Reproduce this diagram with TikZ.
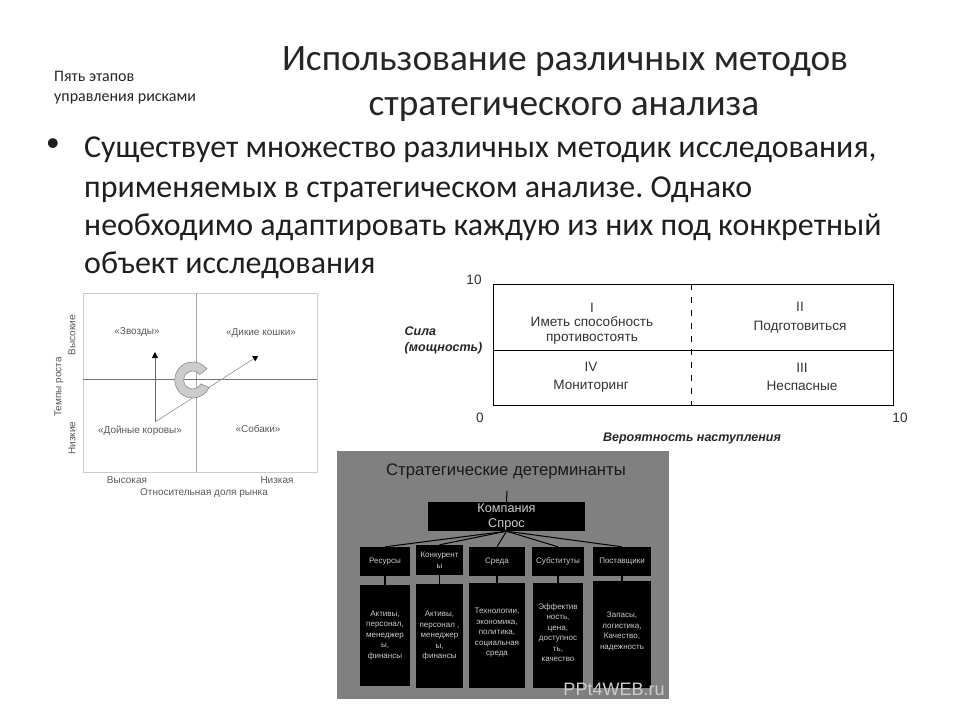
\documentclass[tikz,border=0pt]{standalone}
\usepackage{fontspec}
\setmainfont{Carlito}
\newfontfamily\arialf{Liberation Sans}
\newcommand{\fsz}[2]{\fontsize{#1}{#2}\selectfont}
\usetikzlibrary{arrows.meta}
\frenchspacing
\tikzset{
  titletext/.style={font=\fsz{37.3}{40}, text=black!85, inner sep=0pt, align=center},
  bodyline/.style={font=\fsz{31.9}{34}, text=black!88, inner sep=0pt, anchor=base west},
  smallnote/.style={font=\fsz{16}{18}, text=black!85, inner sep=0pt, anchor=base west},
  bcg/.style={font=\arialf\fsz{10}{12}, text=black!65, inner sep=0pt},
  risk/.style={font=\arialf\fsz{13.6}{14.6}, text=black!80, inner sep=0pt, align=center},
  riskbold/.style={font=\arialf\bfseries\itshape\fsz{12.5}{16}, text=black!85, inner sep=0pt, align=left},
  darkbox/.style={fill=black, draw=none, inner sep=0pt, text=white!80!black, align=center, font=\arialf\fsz{8}{10.5}},
  link/.style={draw=black, line width=1pt},
  stemlink/.style={draw=black, line width=1.5pt},
}
\begin{document}
\begin{tikzpicture}[x=1pt,y=-1pt]
\useasboundingbox (0,0) rectangle (960,720);
\fill[white] (0,0) rectangle (960,720);
% heading
\node[titletext] (title1) at (565,62) {Использование различных методов};
\node[titletext] (title2) at (564,109) {стратегического анализа};
\node[smallnote] (note1) at (54,81.5) {Пять этапов};
\node[smallnote] (note2) at (54,101) {управления рисками};
% body
\node[font=\arialf\fsz{36}{36}, inner sep=0pt, text=black!88] (bullet) at (53,147) {•};
\node[bodyline] (b1) at (84,157) {Существует множество различных методик исследования,};
\node[bodyline] (b2) at (84,197) {применяемых в стратегическом анализе. Однако};
\node[bodyline] (b3) at (84,235) {необходимо адаптировать каждую из них под конкретный};
\node[bodyline] (b4) at (84,273) {объект исследования};
% BCG matrix
\draw[black!20, line width=.8pt] (83,293) rectangle (317,472);
\draw[black!35, line width=.7pt] (196,293) -- (196,472);
\draw[black!55, line width=.7pt] (83,379) -- (317,379);
\coordinate (cowbase) at (155,422);
\coordinate (startip) at (155,352);
\coordinate (cattip) at (258,356);
\draw[black!60, line width=.7pt, -{Triangle[length=6pt,width=6pt,black]}] (cowbase) -- (startip);
\draw[black!40, line width=.7pt, -{Triangle[length=5pt,width=6pt,black]}] (cowbase) -- (cattip);
% C emblem
\fill[black!20, draw=black!50, line width=.5pt]
  ([shift={(192.7,380)}]-38:18) arc[start angle=-38,end angle=-335,radius=18]
  -- ([shift={(192.7,380)}]-335:9) arc[start angle=-335,end angle=-38,radius=9] -- cycle;
\node[bcg] (stars) at (137,332) {«Звозды»};
\node[bcg] (cats) at (261,333) {«Дикие кошки»};
\node[bcg] (cows) at (140,431) {«Дойные коровы»};
\node[bcg] (dogs) at (258,429) {«Собаки»};
\node[bcg, rotate=90] (hi) at (72,335) {Высокие};
\node[bcg, rotate=90] (lo) at (72,438) {Низкие};
\node[bcg, rotate=90] (growth) at (59,387) {Темпы роста};
\node[bcg] (xhi) at (127,480) {Высокая};
\node[bcg] (xlo) at (277,480) {Низкая};
\node[bcg] (share) at (204,493) {Относительная доля рынка};
% risk matrix
\draw[black, line width=1pt] (493,284) rectangle (893,405);
\draw[black, line width=1pt] (493,350) -- (893,350);
\draw[black, line width=.8pt, dash pattern=on 6pt off 7pt] (691,284) -- (691,405);
\node[risk] (q1) at (592,323.5) {I\\Иметь способность\\противостоять};
\node[risk] (q2) at (800,318) {II\\[4.5pt]Подготовиться};
\node[risk] (q4) at (591,377.5) {IV\\[3.5pt]Мониторинг};
\node[risk] (q3) at (802,377) {III\\[3.5pt]Неспасные};
\node[riskbold] (power) at (443.5,340) {Сила\\(мощность)};
\node[risk] (y10) at (474,280) {10};
\node[risk] (x0) at (480,418) {0};
\node[risk] (x10) at (900,418) {10};
\node[riskbold] (prob) at (692,438) {Вероятность наступления};
% determinants
\fill[black!50] (337,451) rectangle (669,699);
\node[font=\arialf\fsz{16.7}{18}, text=black!90, inner sep=0pt] (dtitle) at (506,471) {Стратегические детерминанты};
\node[darkbox, minimum width=157pt, minimum height=29pt] (comp) at (506.5,516.5) {};
\node[darkbox, fill=none, font=\arialf\fsz{12.7}{15.7}] (complabel) at (506.5,517) {Компания\\Спрос};
\coordinate (stub) at (507,491);
\draw[link] (comp.north) -- (stub);
\node[darkbox, minimum width=50pt, minimum height=29pt] (res) at (385,561.5) {Ресурсы};
\node[darkbox, minimum width=47pt, minimum height=30pt] (con) at (439.5,560) {Конкурент\\ы};
\node[darkbox, minimum width=56pt, minimum height=29pt] (env) at (497,561.5) {Среда};
\node[darkbox, minimum width=52pt, minimum height=29pt] (sub) at (558,561.5) {Субституты};
\node[darkbox, minimum width=58pt, minimum height=29pt] (sup) at (622,561.5) {Поставщики};
\node[darkbox, minimum width=50pt, minimum height=101pt] (res2) at (385,635.5) {Активы,\\персонал,\\менеджер\\ы,\\финансы};
\node[darkbox, minimum width=47pt, minimum height=104pt] (con2) at (439.5,636) {Активы,\\персонал ,\\менеджер\\ы,\\финансы};
\node[darkbox, minimum width=56pt, minimum height=105pt] (env2) at (497,635.5) {\\[-22pt]Технологии,\\экономика,\\политика,\\социальная\\среда};
\node[darkbox, minimum width=50pt, minimum height=105pt] (sub2) at (558,635.5) {\\[-12pt]Эффектив\\ность,\\цена,\\доступнос\\ть,\\качество};
\node[darkbox, minimum width=58pt, minimum height=107pt] (sup2) at (622,634.5) {\\[-20pt]Запасы,\\логистика,\\Качество,\\надежность};
\draw[link] (comp.south) -- (res.north);
\draw[link] (comp.south) -- (con.north);
\draw[link] (comp.south) -- (env.north);
\draw[link] (comp.south) -- (sub.north);
\draw[link] (comp.south) -- (sup.north);
\draw[stemlink] (res.south) -- (res2.north);
\draw[stemlink] (con.south) -- (con2.north);
\draw[stemlink] (env.south) -- (env2.north);
\draw[stemlink] (sub.south) -- (sub2.north);
\draw[stemlink] (sup.south) -- (sup2.north);
\node[font=\arialf\fsz{18}{20}, text=white!80!black, inner sep=0pt] (wm) at (614,689) {PPt4WEB.ru};
\end{tikzpicture}
\end{document}
